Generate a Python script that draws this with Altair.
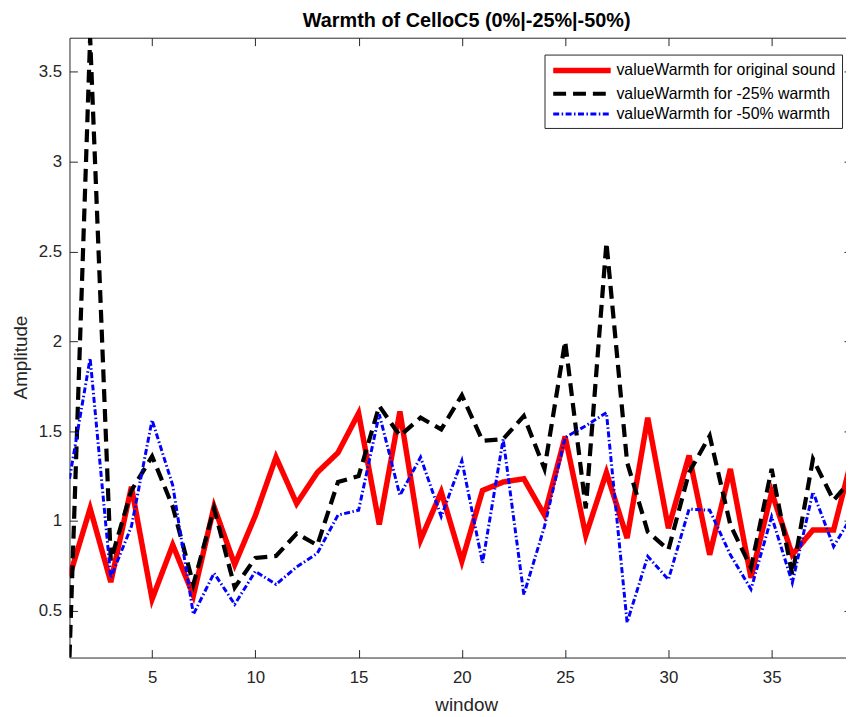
import altair as alt
import pandas as pd

# ---------------- data ----------------
windows = list(range(1, 40))

series_names = [
    "valueWarmth for original sound",
    "valueWarmth for -25% warmth",
    "valueWarmth for -50% warmth",
]

original = [0.69, 1.07, 0.66, 1.19, 0.565, 0.867, 0.585, 1.08, 0.757, 1.03,
            1.355, 1.097, 1.27, 1.38, 1.60, 0.98, 1.61, 0.895, 1.162, 0.776,
            1.17, 1.217, 1.235, 1.033, 1.47, 0.92, 1.27, 0.905, 1.575, 0.96,
            1.364, 0.812, 1.29, 0.684, 1.16, 0.812, 0.95, 0.95, 1.40]

minus25 = [0.24, 3.69, 0.78, 1.17, 1.36, 1.08, 0.647, 1.07, 0.63, 0.794,
           0.805, 0.93, 0.865, 1.217, 1.25, 1.64, 1.474, 1.575, 1.51, 1.70,
           1.446, 1.456, 1.584, 1.29, 2.0, 1.07, 2.55, 1.327, 0.94, 0.84,
           1.27, 1.474, 0.978, 0.74, 1.29, 0.70, 1.345, 1.115, 1.25]

minus50 = [1.235, 1.906, 0.684, 0.97, 1.562, 1.198, 0.48, 0.71, 0.536, 0.72,
           0.647, 0.744, 0.82, 1.033, 1.06, 1.594, 1.143, 1.355, 1.024, 1.336,
           0.766, 1.456, 0.59, 0.969, 1.465, 1.53, 1.603, 0.435, 0.803, 0.674,
           1.066, 1.06, 0.812, 0.62, 1.024, 0.656, 1.162, 0.858, 1.05]

x_ticks = [5, 10, 15, 20, 25, 30, 35]
y_ticks = [0.5, 1, 1.5, 2, 2.5, 3, 3.5]

title_text = "Warmth of CelloC5 (0%|-25%|-50%)"

# ---------------- table ----------------
rows = []
for name, vals in zip(series_names, [original, minus25, minus50]):
    for w, v in zip(windows, vals):
        rows.append({"window": w, "value": v, "series": name})
df = pd.DataFrame(rows)

# ---------------- styling ----------------
FONT = "Liberation Sans"
AX = "#262626"
W, H = 783, 625

xscale = alt.Scale(domain=[1, 38.6], nice=False, zero=False)
yscale = alt.Scale(domain=[0.24, 3.69], nice=False, zero=False)

# long horizontal legend line: custom path, 8 units wide in a 2-unit box
legend = alt.Legend(
    title=None, orient="none", legendX=479, legendY=17,
    symbolType="M-4,0H4", symbolSize=210,
    symbolOffset=21.75, labelOffset=24.75,
    labelFontSize=16, labelFont=FONT, labelColor="#000000", labelLimit=0,
    padding=6, rowPadding=3,
    strokeColor=AX, fillColor="white", cornerRadius=0,
)

color = alt.Color("series:N", scale=alt.Scale(domain=series_names,
                  range=["#ff0000", "#000000", "#0000ff"]), legend=legend)
dash = alt.StrokeDash("series:N", scale=alt.Scale(domain=series_names,
                      range=[[1, 0], [13, 7], [6, 2.5, 1.5, 2.5]]), legend=legend)
swidth = alt.StrokeWidth("series:N", scale=alt.Scale(domain=series_names,
                         range=[5.5, 3, 1.5]), legend=legend)

# axis with labels + domain (bottom / left)
x_main = alt.Axis(orient="bottom", values=x_ticks, ticks=False, tickSize=0,
                  labelPadding=12, labelFontSize=17, labelColor=AX,
                  domainColor=AX, grid=False, title="window",
                  titleFontSize=19, titleFontWeight="normal", titleColor=AX,
                  titleX=400, titleY=47, titleBaseline="middle", titleAlign="center")
y_main = alt.Axis(orient="left", values=y_ticks, format=".2~f", ticks=False,
                  tickSize=0, labelPadding=8, labelFontSize=17, labelColor=AX,
                  domainColor=AX, grid=False, title="Amplitude",
                  titleFontSize=19, titleFontWeight="normal", titleColor=AX,
                  titleAngle=270, titleX=-49, titleY=322,
                  titleBaseline="middle", titleAlign="center")
# inward ticks on bottom / left edges
x_in_bottom = alt.Axis(orient="top", offset=-H, values=x_ticks, tickSize=8,
                       tickColor=AX, labels=False, domain=False, grid=False, title=None)
y_in_left = alt.Axis(orient="right", offset=-W, values=y_ticks, tickSize=8,
                     tickColor=AX, labels=False, domain=False, grid=False, title=None)
# top border with inward ticks, right-edge ticks (cropped)
x_top = alt.Axis(orient="bottom", offset=-H, values=x_ticks, tickSize=8,
                 tickColor=AX, domainColor=AX, labels=False, grid=False, title=None)
y_right = alt.Axis(orient="left", offset=-W, values=y_ticks, tickSize=2,
                   tickColor=AX, labels=False, domain=False, grid=False, title=None)

axes = [(x_main, y_main), (x_in_bottom, y_in_left), (x_top, y_right)]

base = alt.Chart(df)
layers = []
for name, (xa, ya) in zip(series_names, axes):
    layers.append(
        base.transform_filter(alt.datum.series == name)
        .mark_line(clip=True, strokeJoin="miter")
        .encode(
            x=alt.X("window:Q", scale=xscale, axis=xa),
            y=alt.Y("value:Q", scale=yscale, axis=ya),
            color=color,
            strokeDash=dash,
            strokeWidth=swidth,
        )
    )

chart = (
    alt.layer(*layers)
    .resolve_axis(x="independent", y="independent")
    .properties(
        width=W, height=H,
        title=alt.Title(title_text, fontSize=20, fontWeight="bold", font=FONT,
                        color="#000000", anchor="middle", frame="group",
                        baseline="alphabetic", offset=8, dx=9, dy=18),
        autosize=alt.AutoSizeParams(type="none"),
        padding={"left": 62, "top": 27, "right": 0, "bottom": 56},
        background="white",
    )
    .configure_axis(labelFont=FONT, titleFont=FONT)
    .configure_view(strokeWidth=0)
)

chart.save("out.html", embed_options={"renderer": "svg", "actions": False})
